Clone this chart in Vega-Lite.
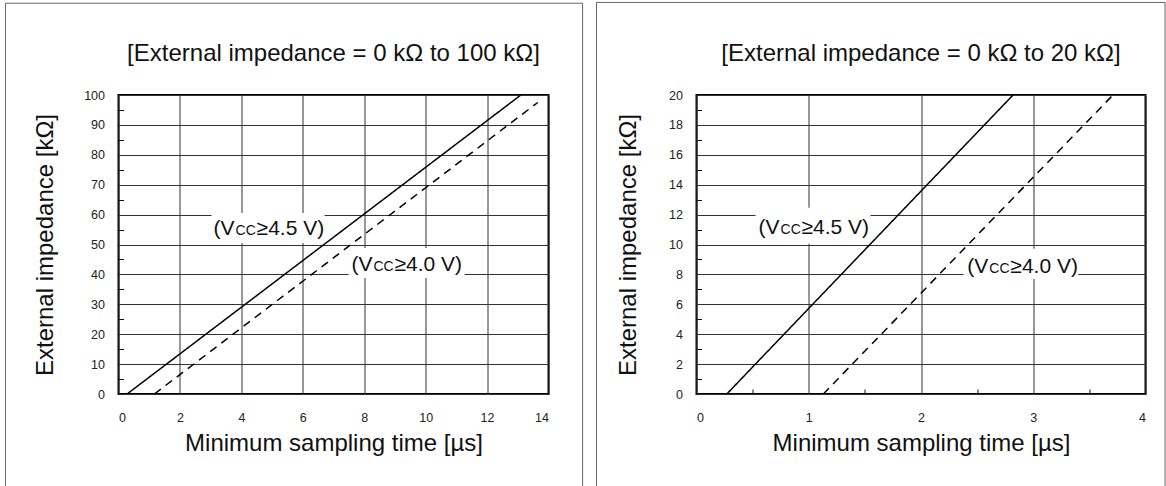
{
  "$schema": "https://vega.github.io/schema/vega-lite/v6.json",
  "autosize": {"type": "pad"},
  "padding": {"left": 3.5, "top": 0, "right": 0, "bottom": 0},
  "background": "white",
  "spacing": 10,
  "config": {
    "view": {"stroke": "#000", "strokeWidth": 2},
    "font": "Liberation Sans",
    "axis": {
      "labelFont": "Liberation Sans", "labelFontSize": 12.5, "labelColor": "#222",
      "titleFont": "Liberation Sans", "titleFontSize": 24, "titleFontWeight": "normal", "titleColor": "#111",
      "gridColor": "#333", "gridWidth": 1, "gridOpacity": 1, "tickColor": "#111", "domain": false
    },
    "text": {"font": "Liberation Sans", "color": "#111"}
  },
  "datasets": {
    "frameL": [
      {"t": -3.68, "t2": -3.68, "z": -31.2, "z2": 130.7},
      {"t": 15.11, "t2": 15.11, "z": -31.2, "z2": 130.7},
      {"t": -3.68, "t2": 15.11, "z": 130.7, "z2": 130.7}
    ],
    "frameR": [
      {"t": -0.891, "t2": -0.891, "z": -6.24, "z2": 26.19},
      {"t": 4.174, "t2": 4.174, "z": -6.24, "z2": 26.19},
      {"t": -0.891, "t2": 4.174, "z": 26.19, "z2": 26.19}
    ],
    "boxesL": [
      {"t": 3.03, "t2": 6.71, "z": 50.5, "z2": 60.5},
      {"t": 7.49, "t2": 11.27, "z": 38.8, "z2": 48.8}
    ],
    "boxesR": [
      {"t": 0.526, "t2": 1.55, "z": 10.05, "z2": 12.46},
      {"t": 2.38, "t2": 3.40, "z": 7.70, "z2": 9.71}
    ],
    "linesL": [
      {"series": "4.5", "t": 0.28, "z": 0},
      {"series": "4.5", "t": 13.1, "z": 100},
      {"series": "4.0", "t": 1.17, "z": 0},
      {"series": "4.0", "t": 13.65, "z": 97.5}
    ],
    "linesR": [
      {"series": "4.5", "t": 0.27, "z": 0},
      {"series": "4.5", "t": 2.82, "z": 20},
      {"series": "4.0", "t": 1.13, "z": 0},
      {"series": "4.0", "t": 3.71, "z": 20}
    ],
    "labelsL": [
      {"t": 3.78, "z": 53.3, "pre": "(V", "sub": "CC", "post": "≥4.5 V)"},
      {"t": 8.27, "z": 41.1, "pre": "(V", "sub": "CC", "post": "≥4.0 V)"}
    ],
    "labelsR": [
      {"t": 0.74, "z": 10.7, "pre": "(V", "sub": "CC", "post": "≥4.5 V)"},
      {"t": 2.60, "z": 8.12, "pre": "(V", "sub": "CC", "post": "≥4.0 V)"}
    ],
    "titleL": [{"t": 7, "z": 113.7, "text": "[External impedance = 0 kΩ to 100 kΩ]"}],
    "titleR": [{"t": 2, "z": 22.77, "text": "[External impedance = 0 kΩ to 20 kΩ]"}]
  },
  "hconcat": [
    {
      "width": 430,
      "height": 299,
      "encoding": {
        "x": {
          "field": "t", "type": "quantitative",
          "scale": {"domain": [0, 14], "nice": false, "zero": false},
          "axis": {
            "title": "Minimum sampling time [µs]",
            "values": [0, 2, 4, 6, 8, 10, 12, 14],
            "tickSize": 0, "labelPadding": 17, "titlePadding": 8, "grid": true
          }
        },
        "y": {
          "field": "z", "type": "quantitative",
          "scale": {"domain": [0, 100], "nice": false, "zero": false},
          "axis": {
            "title": "External impedance [kΩ]",
            "values": [0, 5, 10, 15, 20, 25, 30, 35, 40, 45, 50, 55, 60, 65, 70, 75, 80, 85, 90, 95, 100],
            "labelExpr": "datum.value % 10 === 0 ? datum.label : ''",
            "gridOpacity": {"condition": {"test": "datum.value % 10 === 0", "value": 1}, "value": 0},
            "tickOpacity": {"condition": {"test": "datum.value % 10 === 0", "value": 0}, "value": 1},
            "tickSize": -5, "labelPadding": 19, "titlePadding": 26, "grid": true
          }
        }
      },
      "layer": [
        {
          "data": {"name": "frameL"},
          "mark": {"type": "rule", "color": "#666", "strokeWidth": 1},
          "encoding": {"x2": {"field": "t2"}, "y2": {"field": "z2"}}
        },
        {
          "data": {"name": "boxesL"},
          "mark": {"type": "rect", "fill": "white", "strokeWidth": 0},
          "encoding": {"x2": {"field": "t2"}, "y2": {"field": "z2"}}
        },
        {
          "data": {"name": "linesL"},
          "mark": {"type": "line", "color": "#000", "strokeWidth": 1.5},
          "encoding": {
            "strokeDash": {
              "field": "series", "type": "nominal",
              "scale": {"domain": ["4.5", "4.0"], "range": [[1, 0], [8, 6]]},
              "legend": null
            }
          }
        },
        {
          "data": {"name": "labelsL"},
          "mark": {"type": "text", "align": "right", "baseline": "alphabetic", "fontSize": 21},
          "encoding": {"text": {"field": "pre"}}
        },
        {
          "data": {"name": "labelsL"},
          "mark": {"type": "text", "align": "left", "baseline": "alphabetic", "fontSize": 14, "dx": 1},
          "encoding": {"text": {"field": "sub"}}
        },
        {
          "data": {"name": "labelsL"},
          "mark": {"type": "text", "align": "left", "baseline": "alphabetic", "fontSize": 21, "dx": 22},
          "encoding": {"text": {"field": "post"}}
        },
        {
          "data": {"name": "titleL"},
          "mark": {"type": "text", "align": "center", "baseline": "middle", "fontSize": 24},
          "encoding": {"text": {"field": "text"}}
        }
      ]
    },
    {
      "width": 449,
      "height": 299,
      "encoding": {
        "x": {
          "field": "t", "type": "quantitative",
          "scale": {"domain": [0, 4], "nice": false, "zero": false},
          "axis": {
            "title": "Minimum sampling time [µs]",
            "values": [0, 0.5, 1, 1.5, 2, 2.5, 3, 3.5, 4],
            "labelExpr": "datum.value % 1 === 0 ? format(datum.value, 'd') : ''",
            "gridOpacity": {"condition": {"test": "datum.value % 1 === 0", "value": 1}, "value": 0},
            "tickOpacity": {"condition": {"test": "datum.value % 1 === 0", "value": 0}, "value": 1},
            "tickSize": -5, "labelPadding": 22, "titlePadding": 8, "grid": true
          }
        },
        "y": {
          "field": "z", "type": "quantitative",
          "scale": {"domain": [0, 20], "nice": false, "zero": false},
          "axis": {
            "title": "External impedance [kΩ]",
            "values": [0, 1, 2, 3, 4, 5, 6, 7, 8, 9, 10, 11, 12, 13, 14, 15, 16, 17, 18, 19, 20],
            "labelExpr": "datum.value % 2 === 0 ? datum.label : ''",
            "gridOpacity": {"condition": {"test": "datum.value % 2 === 0", "value": 1}, "value": 0},
            "tickOpacity": {"condition": {"test": "datum.value % 2 === 0", "value": 0}, "value": 1},
            "tickSize": -5, "labelPadding": 19, "titlePadding": 28, "grid": true
          }
        }
      },
      "layer": [
        {
          "data": {"name": "frameR"},
          "mark": {"type": "rule", "color": "#666", "strokeWidth": 1},
          "encoding": {"x2": {"field": "t2"}, "y2": {"field": "z2"}}
        },
        {
          "data": {"name": "boxesR"},
          "mark": {"type": "rect", "fill": "white", "strokeWidth": 0},
          "encoding": {"x2": {"field": "t2"}, "y2": {"field": "z2"}}
        },
        {
          "data": {"name": "linesR"},
          "mark": {"type": "line", "color": "#000", "strokeWidth": 1.5},
          "encoding": {
            "strokeDash": {
              "field": "series", "type": "nominal",
              "scale": {"domain": ["4.5", "4.0"], "range": [[1, 0], [8, 6]]},
              "legend": null
            }
          }
        },
        {
          "data": {"name": "labelsR"},
          "mark": {"type": "text", "align": "right", "baseline": "alphabetic", "fontSize": 21},
          "encoding": {"text": {"field": "pre"}}
        },
        {
          "data": {"name": "labelsR"},
          "mark": {"type": "text", "align": "left", "baseline": "alphabetic", "fontSize": 14, "dx": 1},
          "encoding": {"text": {"field": "sub"}}
        },
        {
          "data": {"name": "labelsR"},
          "mark": {"type": "text", "align": "left", "baseline": "alphabetic", "fontSize": 21, "dx": 22},
          "encoding": {"text": {"field": "post"}}
        },
        {
          "data": {"name": "titleR"},
          "mark": {"type": "text", "align": "center", "baseline": "middle", "fontSize": 24},
          "encoding": {"text": {"field": "text"}}
        }
      ]
    }
  ]
}
